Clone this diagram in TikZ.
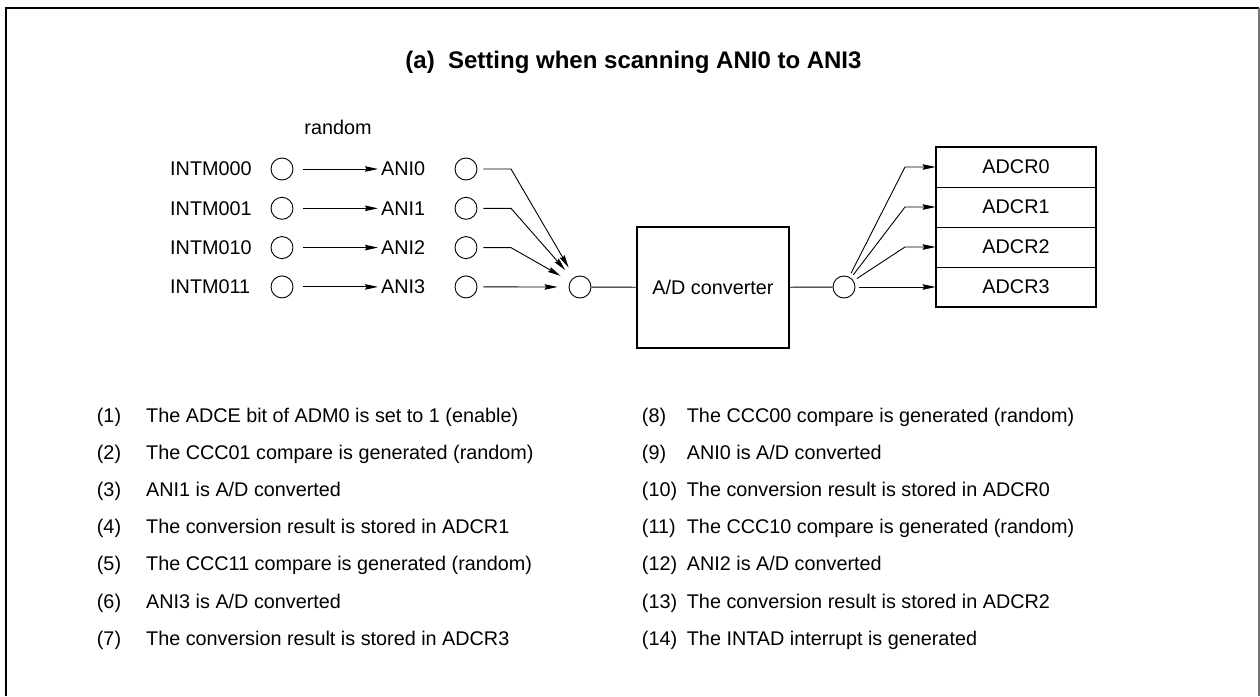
\documentclass[tikz,border=0pt]{standalone}
\usepackage{fontspec}
\setmainfont{Liberation Sans}
\usetikzlibrary{arrows.meta,positioning}

\begin{document}
\begin{tikzpicture}[
    x=1pt, y=-1pt,
    font=\fontsize{19.8}{24}\selectfont,
    lbl/.style={inner sep=0pt},
    port/.style={circle, draw, line width=0.9pt, minimum size=22pt, inner sep=0pt},
    block/.style={rectangle, draw, line width=2pt, minimum width=152pt, minimum height=121pt, align=center},
    cell/.style={rectangle, draw, line width=0.8pt, minimum width=160pt, minimum height=40pt},
    wire/.style={line width=0.9pt},
    arrow/.style={-{Stealth[length=13pt,width=5.5pt,inset=1.5pt]}, line width=0.9pt},
    item/.style={anchor=base west, inner sep=0pt}
]
    \useasboundingbox (0,0) rectangle (1260,696);

    % Frame and title
    \draw[line width=2pt] (6,696) -- (6,8) -- (1259,8);
    \draw[line width=1.5pt, black!55] (1259,8) -- (1259,696);
    \node[lbl, font=\fontsize{24}{28}\selectfont\bfseries, anchor=base] (title) at (633.5,68) {(a)~~Setting when scanning ANI0 to ANI3};

    % Inputs
    \node[lbl] (random) at (338,127) {random};
    \foreach \i/\bits in {0/000,1/001,2/010,3/011} {
        \pgfmathsetmacro{\y}{169+39.3*\i}
        \node[lbl, anchor=west] (intm\i) at (170,\y) {INTM\bits};
        \node[port] (trg\i) at (282,\y) {};
        \node[lbl, anchor=west] (ani\i) at (381,\y) {ANI\i};
        \node[port] (sw\i) at (466,\y) {};
        \coordinate (kin\i) at (511,\y);
        \draw[arrow, shorten <=10pt, shorten >=3pt] (trg\i) -- (ani\i);
    }

    % Converter
    \node[port] (mux) at (580,287) {};
    \node[block] (adc) at (713,287.5) {A/D converter};
    \node[port] (demux) at (844,287) {};

    % Registers
    \foreach \i in {0,...,3}
        \node[cell] (reg\i) at (1016,167+40*\i) {ADCR\i};
    \draw[line width=2pt] (reg0.north west) rectangle (reg3.south east);

    % Connections
    \foreach \i in {0,1,2}
        \draw[arrow, shorten <=6pt, shorten >=11pt] (sw\i) -- (kin\i) -- (mux);
    \draw[arrow, shorten <=6pt, shorten >=11pt] (sw3) -- (mux);
    \draw[wire] (mux) -- (adc);
    \draw[wire] (adc) -- (demux);
    \foreach \i in {0,1,2} {
        \coordinate (kout\i) at (905,167+40*\i);
        \draw[arrow, shorten <=4pt] (demux) -- (kout\i) -- (reg\i.west);
    }
    \draw[arrow, shorten <=4pt] (demux) -- (reg3.west);

    % Steps
    \node[item] (it1) at (96.7,422) {\makebox[49.3pt][l]{(1)}The ADCE bit of ADM0 is set to 1 (enable)};
    \node[item] (it2) at (96.7,459.2) {\makebox[49.3pt][l]{(2)}The CCC01 compare is generated (random)};
    \node[item] (it3) at (96.7,496.4) {\makebox[49.3pt][l]{(3)}ANI1 is A/D converted};
    \node[item] (it4) at (96.7,533.6) {\makebox[49.3pt][l]{(4)}The conversion result is stored in ADCR1};
    \node[item] (it5) at (96.7,570.8) {\makebox[49.3pt][l]{(5)}The CCC11 compare is generated (random)};
    \node[item] (it6) at (96.7,608) {\makebox[49.3pt][l]{(6)}ANI3 is A/D converted};
    \node[item] (it7) at (96.7,645.2) {\makebox[49.3pt][l]{(7)}The conversion result is stored in ADCR3};
    \node[item] (it8) at (641.7,422) {\makebox[45pt][l]{(8)}The CCC00 compare is generated (random)};
    \node[item] (it9) at (641.7,459.2) {\makebox[45pt][l]{(9)}ANI0 is A/D converted};
    \node[item] (it10) at (641.7,496.4) {\makebox[45pt][l]{(10)}The conversion result is stored in ADCR0};
    \node[item] (it11) at (641.7,533.6) {\makebox[45pt][l]{(11)}The CCC10 compare is generated (random)};
    \node[item] (it12) at (641.7,570.8) {\makebox[45pt][l]{(12)}ANI2 is A/D converted};
    \node[item] (it13) at (641.7,608) {\makebox[45pt][l]{(13)}The conversion result is stored in ADCR2};
    \node[item] (it14) at (641.7,645.2) {\makebox[45pt][l]{(14)}The INTAD interrupt is generated};
\end{tikzpicture}
\end{document}
